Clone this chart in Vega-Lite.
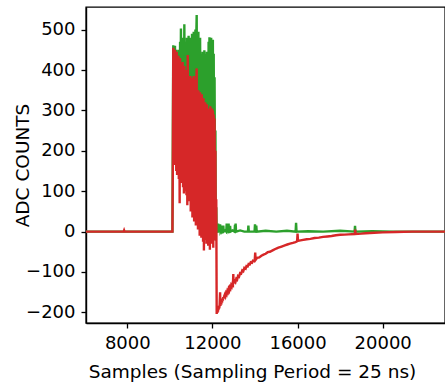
{
  "$schema": "https://vega.github.io/schema/vega-lite/v6.json",
  "width": 359,
  "height": 316,
  "autosize": {"type": "none"},
  "padding": {"left": 86, "top": 7, "right": 0, "bottom": 64},
  "background": "white",
  "config": {
    "view": {"stroke": "black", "strokeWidth": 1.4},
    "axis": {
      "grid": false,
      "domainColor": "black",
      "domainWidth": 1.4,
      "tickColor": "black",
      "tickWidth": 1.3,
      "tickSize": 5,
      "labelPadding": 6,
      "labelFont": "DejaVu Sans",
      "labelFontSize": 18,
      "labelColor": "black",
      "titleFont": "DejaVu Sans",
      "titleFontSize": 18.5,
      "titleFontWeight": "normal",
      "titleColor": "black"
    }
  },
  "datasets": {
    "g": [
      {"s": 6059, "v": 0}, {"s": 8000, "v": 0}, {"s": 10120, "v": 0},
      {"s": 10140, "v": 250}, {"s": 10160, "v": 461}, {"s": 10180, "v": 300}, {"s": 10200, "v": 455},
      {"s": 10220, "v": 280}, {"s": 10240, "v": 460}, {"s": 10260, "v": 320}, {"s": 10280, "v": 440},
      {"s": 10300, "v": 290}, {"s": 10320, "v": 450}, {"s": 10340, "v": 300}, {"s": 10360, "v": 430},
      {"s": 10380, "v": 270}, {"s": 10400, "v": 445}, {"s": 10420, "v": 310}, {"s": 10440, "v": 450},
      {"s": 10460, "v": 260}, {"s": 10480, "v": 470}, {"s": 10500, "v": 320}, {"s": 10520, "v": 503},
      {"s": 10540, "v": 290}, {"s": 10560, "v": 455}, {"s": 10580, "v": 300}, {"s": 10600, "v": 480},
      {"s": 10620, "v": 280}, {"s": 10640, "v": 465}, {"s": 10660, "v": 310}, {"s": 10680, "v": 513},
      {"s": 10700, "v": 270}, {"s": 10720, "v": 470}, {"s": 10740, "v": 300}, {"s": 10760, "v": 455},
      {"s": 10780, "v": 260}, {"s": 10800, "v": 480}, {"s": 10820, "v": 290}, {"s": 10840, "v": 460},
      {"s": 10860, "v": 250}, {"s": 10880, "v": 485}, {"s": 10900, "v": 280}, {"s": 10920, "v": 470},
      {"s": 10940, "v": 240}, {"s": 10960, "v": 480}, {"s": 10980, "v": 270}, {"s": 11000, "v": 460},
      {"s": 11020, "v": 250}, {"s": 11040, "v": 490}, {"s": 11060, "v": 230}, {"s": 11080, "v": 470},
      {"s": 11100, "v": 260}, {"s": 11120, "v": 495}, {"s": 11140, "v": 240}, {"s": 11160, "v": 475},
      {"s": 11180, "v": 220}, {"s": 11200, "v": 500}, {"s": 11220, "v": 250}, {"s": 11240, "v": 480},
      {"s": 11260, "v": 536}, {"s": 11280, "v": 230}, {"s": 11300, "v": 490}, {"s": 11320, "v": 210},
      {"s": 11340, "v": 495}, {"s": 11360, "v": 240}, {"s": 11380, "v": 470}, {"s": 11400, "v": 200},
      {"s": 11420, "v": 480}, {"s": 11440, "v": 230}, {"s": 11460, "v": 440}, {"s": 11480, "v": 190},
      {"s": 11500, "v": 430}, {"s": 11520, "v": 220}, {"s": 11540, "v": 445}, {"s": 11560, "v": 180},
      {"s": 11580, "v": 430}, {"s": 11600, "v": 200}, {"s": 11620, "v": 449}, {"s": 11640, "v": 170},
      {"s": 11660, "v": 440}, {"s": 11680, "v": 190}, {"s": 11700, "v": 420}, {"s": 11720, "v": 160},
      {"s": 11740, "v": 445}, {"s": 11760, "v": 180}, {"s": 11780, "v": 430}, {"s": 11800, "v": 150},
      {"s": 11820, "v": 470}, {"s": 11840, "v": 170}, {"s": 11860, "v": 481}, {"s": 11880, "v": 140},
      {"s": 11900, "v": 460}, {"s": 11920, "v": 160}, {"s": 11940, "v": 480}, {"s": 11960, "v": 130},
      {"s": 11980, "v": 470}, {"s": 12000, "v": 150}, {"s": 12020, "v": 475}, {"s": 12040, "v": 120},
      {"s": 12060, "v": 440}, {"s": 12080, "v": 140}, {"s": 12100, "v": 382}, {"s": 12120, "v": 134},
      {"s": 12140, "v": 250}, {"s": 12160, "v": -22}, {"s": 12180, "v": 60}, {"s": 12200, "v": 0},
      {"s": 12230, "v": 6}, {"s": 12250, "v": -3}, {"s": 12270, "v": 20}, {"s": 12290, "v": 0},
      {"s": 12320, "v": 10}, {"s": 12340, "v": -2}, {"s": 12360, "v": 18}, {"s": 12380, "v": 0},
      {"s": 12420, "v": 4}, {"s": 12440, "v": 15}, {"s": 12460, "v": 0}, {"s": 12490, "v": 2},
      {"s": 12510, "v": 15}, {"s": 12530, "v": 0}, {"s": 12600, "v": 3}, {"s": 12650, "v": 0},
      {"s": 12670, "v": 20}, {"s": 12690, "v": 0}, {"s": 12740, "v": 2}, {"s": 12760, "v": 20},
      {"s": 12780, "v": 0}, {"s": 12810, "v": 1}, {"s": 12830, "v": 14}, {"s": 12850, "v": 0},
      {"s": 12950, "v": 3}, {"s": 13040, "v": 0}, {"s": 13060, "v": 17}, {"s": 13075, "v": 0},
      {"s": 13090, "v": 20}, {"s": 13110, "v": 0}, {"s": 13300, "v": 3}, {"s": 13500, "v": 0},
      {"s": 13670, "v": 0}, {"s": 13690, "v": 15}, {"s": 13710, "v": 0}, {"s": 13980, "v": 0},
      {"s": 14000, "v": 18}, {"s": 14020, "v": 0}, {"s": 14040, "v": 0}, {"s": 14060, "v": 15},
      {"s": 14080, "v": 0}, {"s": 14500, "v": 2}, {"s": 15000, "v": 0}, {"s": 15500, "v": 2},
      {"s": 15910, "v": 0}, {"s": 15930, "v": 22}, {"s": 15950, "v": 0}, {"s": 16500, "v": 1},
      {"s": 17200, "v": 0}, {"s": 18000, "v": 2}, {"s": 18680, "v": 0}, {"s": 18700, "v": 14},
      {"s": 18720, "v": 0}, {"s": 19500, "v": 1}, {"s": 20500, "v": 0}, {"s": 22928, "v": 0}
    ],
    "r": [
      {"s": 6059, "v": 0}, {"s": 7830, "v": 0}, {"s": 7850, "v": 3}, {"s": 7870, "v": 0},
      {"s": 9000, "v": 0}, {"s": 10120, "v": 0},
      {"s": 10140, "v": 170}, {"s": 10160, "v": 455}, {"s": 10180, "v": 200}, {"s": 10200, "v": 440},
      {"s": 10220, "v": 165}, {"s": 10240, "v": 450}, {"s": 10260, "v": 180}, {"s": 10280, "v": 420},
      {"s": 10300, "v": 150}, {"s": 10320, "v": 445}, {"s": 10340, "v": 140}, {"s": 10360, "v": 400},
      {"s": 10380, "v": 160}, {"s": 10400, "v": 435}, {"s": 10420, "v": 130}, {"s": 10440, "v": 410},
      {"s": 10460, "v": 70}, {"s": 10480, "v": 430}, {"s": 10500, "v": 140}, {"s": 10520, "v": 415},
      {"s": 10540, "v": 120}, {"s": 10560, "v": 400}, {"s": 10580, "v": 135}, {"s": 10600, "v": 420},
      {"s": 10620, "v": 110}, {"s": 10640, "v": 395}, {"s": 10660, "v": 94}, {"s": 10680, "v": 410},
      {"s": 10700, "v": 125}, {"s": 10720, "v": 390}, {"s": 10740, "v": 100}, {"s": 10760, "v": 400},
      {"s": 10780, "v": 90}, {"s": 10800, "v": 385}, {"s": 10820, "v": 65}, {"s": 10840, "v": 437},
      {"s": 10860, "v": 110}, {"s": 10880, "v": 380}, {"s": 10900, "v": 75}, {"s": 10920, "v": 370},
      {"s": 10940, "v": 90}, {"s": 10960, "v": 385}, {"s": 10980, "v": 50}, {"s": 11000, "v": 360},
      {"s": 11020, "v": 60}, {"s": 11040, "v": 380}, {"s": 11060, "v": 35}, {"s": 11080, "v": 370},
      {"s": 11100, "v": 45}, {"s": 11120, "v": 385}, {"s": 11140, "v": 25}, {"s": 11160, "v": 360},
      {"s": 11180, "v": 40}, {"s": 11200, "v": 375}, {"s": 11220, "v": 15}, {"s": 11240, "v": 365},
      {"s": 11260, "v": 404}, {"s": 11280, "v": 20}, {"s": 11300, "v": 340}, {"s": 11320, "v": 5},
      {"s": 11340, "v": 350}, {"s": 11360, "v": 10}, {"s": 11380, "v": 320}, {"s": 11400, "v": -10},
      {"s": 11420, "v": 345}, {"s": 11440, "v": 0}, {"s": 11460, "v": 330}, {"s": 11480, "v": -15},
      {"s": 11500, "v": 340}, {"s": 11520, "v": -5}, {"s": 11540, "v": 315}, {"s": 11560, "v": -25},
      {"s": 11580, "v": 330}, {"s": 11600, "v": -47}, {"s": 11620, "v": 305}, {"s": 11640, "v": -20},
      {"s": 11660, "v": 320}, {"s": 11680, "v": -10}, {"s": 11700, "v": 300}, {"s": 11720, "v": -30},
      {"s": 11740, "v": 315}, {"s": 11760, "v": -15}, {"s": 11780, "v": 300}, {"s": 11800, "v": -35},
      {"s": 11820, "v": 305}, {"s": 11840, "v": -20}, {"s": 11860, "v": 295}, {"s": 11880, "v": -45},
      {"s": 11900, "v": 310}, {"s": 11920, "v": -25}, {"s": 11940, "v": 300}, {"s": 11960, "v": -30},
      {"s": 11980, "v": 305}, {"s": 12000, "v": -15}, {"s": 12020, "v": 300}, {"s": 12040, "v": -40},
      {"s": 12060, "v": 290}, {"s": 12080, "v": -20}, {"s": 12100, "v": 280}, {"s": 12120, "v": -22},
      {"s": 12140, "v": 200}, {"s": 12160, "v": -15}, {"s": 12180, "v": 80},
      {"s": 12200, "v": -204}, {"s": 12215, "v": -196}, {"s": 12230, "v": -201}, {"s": 12245, "v": -193},
      {"s": 12260, "v": -198}, {"s": 12275, "v": -188}, {"s": 12290, "v": -193}, {"s": 12305, "v": -184},
      {"s": 12320, "v": -190}, {"s": 12340, "v": -180}, {"s": 12360, "v": -150}, {"s": 12375, "v": -184},
      {"s": 12390, "v": -176}, {"s": 12410, "v": -181}, {"s": 12430, "v": -172}, {"s": 12450, "v": -176},
      {"s": 12470, "v": -166}, {"s": 12490, "v": -171}, {"s": 12510, "v": -162}, {"s": 12530, "v": -166},
      {"s": 12550, "v": -160}, {"s": 12580, "v": -156}, {"s": 12610, "v": -160}, {"s": 12640, "v": -152},
      {"s": 12670, "v": -155}, {"s": 12700, "v": -147}, {"s": 12730, "v": -150}, {"s": 12760, "v": -142},
      {"s": 12790, "v": -146}, {"s": 12820, "v": -138}, {"s": 12850, "v": -141}, {"s": 12880, "v": -133},
      {"s": 12910, "v": -136}, {"s": 12940, "v": -129}, {"s": 12965, "v": -131}, {"s": 12980, "v": -105},
      {"s": 12995, "v": -128}, {"s": 13040, "v": -122}, {"s": 13080, "v": -125}, {"s": 13120, "v": -117},
      {"s": 13160, "v": -119}, {"s": 13200, "v": -110}, {"s": 13250, "v": -112}, {"s": 13300, "v": -103},
      {"s": 13350, "v": -104}, {"s": 13400, "v": -96}, {"s": 13450, "v": -98}, {"s": 13500, "v": -90},
      {"s": 13560, "v": -92}, {"s": 13600, "v": -85}, {"s": 13660, "v": -86}, {"s": 13700, "v": -80},
      {"s": 13760, "v": -81}, {"s": 13800, "v": -76}, {"s": 13860, "v": -77}, {"s": 13900, "v": -72},
      {"s": 13950, "v": -73}, {"s": 13990, "v": -69}, {"s": 14010, "v": -52}, {"s": 14030, "v": -70},
      {"s": 14100, "v": -65}, {"s": 14200, "v": -64}, {"s": 14300, "v": -60}, {"s": 14400, "v": -57},
      {"s": 14500, "v": -55}, {"s": 14600, "v": -51}, {"s": 14700, "v": -50}, {"s": 14850, "v": -46},
      {"s": 15000, "v": -42}, {"s": 15100, "v": -40}, {"s": 15250, "v": -37}, {"s": 15400, "v": -34},
      {"s": 15520, "v": -32}, {"s": 15645, "v": -30}, {"s": 15780, "v": -28}, {"s": 15900, "v": -26},
      {"s": 15980, "v": -24}, {"s": 16000, "v": -5}, {"s": 16020, "v": -23}, {"s": 16200, "v": -21},
      {"s": 16430, "v": -19}, {"s": 16600, "v": -18}, {"s": 16800, "v": -16}, {"s": 17000, "v": -15},
      {"s": 17200, "v": -13}, {"s": 17400, "v": -12}, {"s": 17600, "v": -11}, {"s": 17800, "v": -9},
      {"s": 18000, "v": -8}, {"s": 18200, "v": -7.5}, {"s": 18400, "v": -7}, {"s": 18690, "v": -6},
      {"s": 18710, "v": 5}, {"s": 18730, "v": -6}, {"s": 19000, "v": -5}, {"s": 19200, "v": -4},
      {"s": 19600, "v": -3}, {"s": 20000, "v": -2}, {"s": 20600, "v": -1}, {"s": 21400, "v": 0},
      {"s": 22928, "v": 0}
    ]
  },
  "encoding": {
    "x": {
      "field": "s", "type": "quantitative",
      "scale": {"domain": [6059, 22928], "nice": false, "zero": false},
      "axis": {
        "values": [8000, 12000, 16000, 20000], "format": "d",
        "title": "Samples (Sampling Period = 25 ns)",
        "titleX": 166, "titleY": 54, "titleAlign": "center", "titleBaseline": "alphabetic"
      }
    },
    "y": {
      "field": "v", "type": "quantitative",
      "scale": {"domain": [-226.3, 556], "nice": false, "zero": false},
      "axis": {
        "values": [-200, -100, 0, 100, 200, 300, 400, 500], "format": "d",
        "title": "ADC COUNTS",
        "titleX": -58, "titleY": 158, "titleAngle": -90, "titleAlign": "center", "titleBaseline": "alphabetic"
      }
    }
  },
  "layer": [
    {"data": {"name": "g"}, "mark": {"type": "line", "color": "#2ca02c", "strokeWidth": 2.4, "clip": true}},
    {"data": {"name": "r"}, "mark": {"type": "line", "color": "#d62728", "strokeWidth": 2.4, "clip": true}}
  ]
}
